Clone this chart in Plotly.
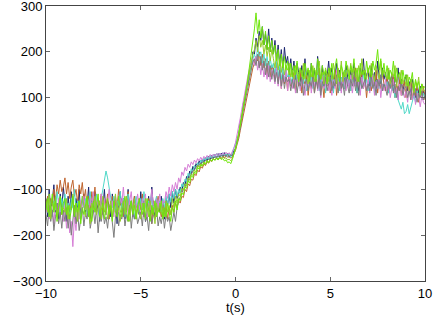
import numpy as np
import plotly.graph_objects as go

# values, one sample every 1/12 s from -10 to 10 (one row = one second)
navy = [
    -120, -160, -100, -145, -125, -90, -150, -130, -165, -110, -140, -95,
    -130, -170, -115, -150, -105, -135, -160, -120, -145, -100, -155, -125,
    -110, -150, -135, -95, -165, -125, -140, -105, -150, -130, -170, -115,
    -140, -100, -155, -125, -135, -160, -110, -145, -120, -175, -130, -105,
    -150, -120, -165, -135, -100, -145, -125, -160, -115, -140, -130, -155,
    -105, -145, -125, -170, -135, -115, -150, -95, -140, -160, -120, -135,
    -150, -115, -140, -165, -120, -135, -110, -140, -105, -130, -100, -120,
    -110, -95, -105, -85, -92, -72, -80, -60, -68, -50, -58, -44,
    -50, -38, -46, -34, -40, -31, -38, -28, -35, -26, -33, -24,
    -32, -22, -30, -21, -30, -20, -28, -22, -30, -24, -28, -15,
    -12, 8, 15, 45, 55, 88, 95, 125, 130, 160, 165, 200,
    195, 230, 210, 245, 225, 255, 215, 240, 205, 250, 200, 230,
    195, 225, 180, 215, 170, 205, 160, 210, 175, 190, 155, 185,
    150, 180, 140, 175, 155, 135, 170, 145, 185, 140, 160, 130,
    175, 140, 160, 130, 190, 150, 135, 170, 125, 155, 145, 180,
    135, 165, 120, 150, 175, 140, 160, 115, 155, 130, 170, 145,
    125, 160, 140, 175, 130, 150, 115, 165, 140, 185, 135, 150,
    160, 125, 170, 140, 155, 120, 180, 145, 130, 165, 140, 155,
    125, 160, 135, 150, 115, 145, 130, 165, 120, 140, 110, 135,
    150, 115, 135, 105, 140, 120, 100, 130, 110, 125, 95, 115,
    105]

sienna = [
    -140, -115, -150, -120, -135, -100, -125, -90, -110, -80, -105, -95,
    -75, -110, -85, -120, -95, -80, -115, -100, -130, -90, -110, -85,
    -125, -100, -140, -115, -150, -105, -130, -95, -145, -120, -135, -110,
    -155, -120, -140, -110, -165, -130, -115, -150, -125, -140, -100, -135,
    -120, -160, -130, -145, -105, -155, -125, -140, -115, -165, -135, -120,
    -145, -110, -160, -130, -150, -120, -140, -175, -125, -150, -135, -115,
    -140, -160, -125, -150, -135, -165, -140, -155, -135, -150, -130, -140,
    -125, -130, -115, -118, -100, -105, -88, -92, -78, -80, -66, -70,
    -58, -62, -50, -54, -45, -48, -40, -43, -37, -39, -33, -36,
    -32, -35, -29, -33, -27, -31, -26, -30, -28, -32, -30, -24,
    -15, -2, 10, 28, 45, 62, 85, 100, 120, 135, 150, 165,
    175, 190, 180, 200, 170, 195, 165, 185, 150, 180, 145, 170,
    160, 140, 175, 135, 165, 120, 155, 130, 150, 115, 160, 125,
    135, 155, 115, 145, 125, 160, 110, 140, 130, 150, 105, 135,
    120, 150, 110, 140, 125, 165, 115, 135, 100, 145, 125, 155,
    110, 140, 125, 160, 105, 135, 150, 115, 140, 120, 155, 130,
    140, 115, 150, 125, 165, 110, 145, 130, 155, 120, 140, 100,
    135, 150, 115, 145, 125, 160, 110, 140, 120, 155, 130, 115,
    145, 110, 135, 120, 150, 100, 130, 115, 140, 105, 125, 135,
    100, 130, 115, 140, 95, 120, 105, 130, 90, 115, 100, 125,
    95]

turquoise = [
    -130, -150, -115, -140, -160, -125, -145, -105, -135, -155, -120, -140,
    -110, -145, -130, -160, -120, -140, -100, -150, -125, -135, -165, -115,
    -140, -120, -155, -130, -105, -150, -125, -145, -110, -135, -160, -120,
    -100, -80, -60, -75, -95, -120, -140, -115, -150, -125, -135, -105,
    -145, -120, -160, -130, -110, -150, -125, -140, -165, -115, -135, -150,
    -120, -145, -105, -135, -155, -125, -140, -110, -150, -130, -115, -145,
    -125, -150, -120, -140, -115, -135, -110, -128, -105, -120, -100, -115,
    -100, -108, -88, -95, -78, -84, -65, -72, -55, -62, -48, -55,
    -42, -48, -36, -42, -32, -38, -28, -36, -26, -33, -24, -31,
    -22, -30, -21, -28, -20, -27, -22, -29, -21, -30, -20, -14,
    -4, 10, 22, 42, 58, 85, 100, 122, 138, 150, 172, 185,
    195, 180, 210, 190, 200, 175, 195, 170, 190, 160, 185, 165,
    175, 150, 180, 145, 170, 140, 165, 135, 160, 145, 150, 130,
    145, 125, 160, 135, 150, 120, 145, 130, 155, 115, 140, 125,
    150, 120, 140, 130, 160, 115, 145, 125, 150, 110, 135, 145,
    125, 155, 110, 140, 130, 150, 115, 145, 135, 120, 160, 125,
    140, 115, 150, 125, 135, 110, 145, 130, 120, 155, 125, 140,
    115, 145, 125, 150, 110, 135, 140, 120, 150, 115, 130, 125,
    135, 110, 130, 115, 125, 100, 115, 95, 85, 75, 90, 65,
    70, 85, 65, 80, 95, 105, 90, 115, 100, 120, 95, 110,
    100]

orchid = [
    -150, -125, -165, -135, -145, -175, -130, -155, -120, -160, -140, -170,
    -135, -185, -150, -195, -170, -225, -160, -190, -140, -165, -125, -150,
    -115, -145, -130, -160, -120, -140, -105, -150, -135, -125, -155, -110,
    -140, -120, -155, -130, -100, -145, -125, -160, -115, -135, -150, -120,
    -130, -95, -140, -115, -160, -125, -105, -150, -130, -145, -110, -135,
    -155, -120, -140, -110, -165, -130, -145, -100, -135, -150, -120, -140,
    -110, -145, -125, -130, -105, -120, -95, -115, -90, -105, -85, -100,
    -75, -85, -62, -70, -52, -60, -45, -52, -40, -46, -36, -42,
    -33, -38, -30, -36, -28, -33, -26, -31, -24, -29, -23, -28,
    -22, -27, -21, -26, -20, -25, -19, -24, -20, -25, -18, -10,
    2, 18, 35, 55, 75, 95, 115, 130, 150, 165, 180, 185,
    170, 190, 160, 180, 150, 175, 145, 165, 140, 170, 135, 160,
    150, 130, 165, 125, 155, 120, 150, 135, 160, 115, 145, 130,
    120, 145, 110, 135, 150, 115, 140, 125, 105, 135, 120, 145,
    110, 140, 125, 155, 115, 135, 100, 145, 120, 130, 150, 115,
    135, 105, 145, 120, 160, 125, 140, 110, 150, 130, 115, 140,
    120, 150, 110, 135, 125, 160, 130, 105, 145, 120, 135, 115,
    140, 110, 130, 150, 105, 135, 120, 145, 100, 130, 115, 140,
    115, 135, 100, 125, 140, 110, 120, 95, 130, 105, 120, 100,
    115, 90, 125, 105, 95, 120, 85, 110, 100, 80, 105, 90,
    85]

gray = [
    -155, -180, -135, -170, -145, -190, -160, -140, -175, -150, -185, -145,
    -170, -140, -185, -155, -200, -160, -135, -175, -150, -190, -165, -140,
    -180, -150, -165, -135, -185, -160, -145, -175, -140, -195, -155, -170,
    -145, -175, -160, -185, -150, -140, -170, -205, -160, -145, -180, -155,
    -165, -140, -180, -155, -170, -135, -185, -150, -165, -145, -175, -160,
    -150, -180, -140, -170, -160, -190, -145, -175, -155, -165, -140, -180,
    -160, -175, -150, -185, -155, -170, -160, -190, -165, -150, -170, -140,
    -125, -118, -108, -100, -96, -86, -82, -72, -68, -60, -58, -50,
    -50, -45, -46, -40, -42, -37, -38, -34, -36, -31, -33, -29,
    -31, -27, -30, -26, -29, -25, -28, -24, -28, -25, -27, -20,
    -10, 0, 18, 32, 55, 72, 95, 110, 128, 145, 160, 178,
    185, 170, 195, 165, 190, 160, 180, 150, 175, 145, 170, 140,
    165, 135, 155, 130, 160, 125, 150, 120, 145, 135, 140, 115,
    140, 120, 150, 110, 135, 125, 145, 105, 130, 140, 115, 135,
    125, 145, 110, 140, 120, 150, 105, 135, 125, 145, 115, 130,
    145, 115, 135, 125, 150, 110, 140, 120, 130, 105, 145, 125,
    110, 140, 125, 150, 115, 135, 105, 145, 120, 130, 140, 115,
    130, 115, 145, 120, 135, 105, 140, 125, 150, 115, 130, 120,
    105, 135, 120, 140, 110, 130, 100, 125, 115, 135, 105, 120,
    125, 100, 115, 95, 130, 105, 120, 90, 110, 100, 115, 95,
    105]

yellowgreen = [
    -125, -150, -110, -165, -130, -145, -115, -160, -135, -120, -155, -140,
    -150, -120, -165, -135, -145, -110, -155, -130, -170, -125, -140, -115,
    -135, -160, -120, -150, -175, -130, -145, -115, -155, -140, -125, -165,
    -115, -150, -130, -165, -140, -125, -160, -135, -110, -150, -140, -170,
    -140, -125, -155, -115, -150, -170, -130, -145, -120, -160, -135, -150,
    -165, -130, -150, -120, -140, -160, -125, -155, -140, -175, -130, -150,
    -130, -155, -140, -160, -125, -150, -135, -155, -120, -140, -115, -130,
    -110, -115, -98, -102, -88, -92, -75, -80, -66, -70, -58, -62,
    -48, -52, -44, -48, -40, -44, -37, -41, -35, -38, -33, -36,
    -31, -34, -30, -33, -29, -33, -31, -36, -34, -38, -33, -24,
    -12, 4, 22, 38, 62, 80, 102, 120, 140, 158, 178, 195,
    205, 225, 200, 235, 210, 225, 195, 215, 190, 210, 180, 205,
    185, 165, 195, 160, 185, 155, 180, 150, 170, 160, 175, 145,
    160, 140, 170, 150, 135, 165, 145, 175, 140, 155, 130, 160,
    145, 170, 135, 160, 150, 180, 140, 155, 130, 165, 150, 135,
    165, 140, 175, 150, 130, 165, 145, 180, 135, 160, 145, 170,
    150, 175, 140, 165, 155, 135, 170, 145, 185, 150, 160, 140,
    165, 145, 175, 150, 135, 170, 155, 140, 180, 145, 160, 150,
    140, 165, 130, 155, 145, 170, 125, 150, 140, 160, 130, 145,
    125, 150, 115, 140, 130, 110, 135, 120, 145, 105, 130, 115,
    115]

lime = [
    -145, -120, -160, -135, -110, -150, -125, -170, -140, -115, -155, -130,
    -120, -155, -135, -165, -145, -115, -160, -130, -150, -125, -175, -140,
    -155, -130, -115, -160, -140, -170, -125, -150, -135, -110, -160, -145,
    -130, -165, -140, -120, -155, -135, -170, -125, -150, -160, -115, -145,
    -160, -135, -115, -150, -170, -140, -125, -155, -135, -165, -145, -120,
    -140, -155, -130, -165, -120, -150, -170, -135, -155, -125, -160, -145,
    -150, -125, -165, -140, -160, -130, -155, -170, -140, -150, -125, -145,
    -120, -125, -108, -112, -95, -98, -82, -86, -70, -74, -62, -66,
    -52, -56, -46, -50, -42, -46, -38, -42, -35, -39, -33, -37,
    -32, -36, -31, -35, -33, -38, -36, -42, -40, -44, -35, -24,
    -14, 2, 20, 38, 60, 78, 100, 120, 145, 170, 195, 225,
    250, 285, 240, 270, 230, 255, 215, 245, 205, 235, 200, 225,
    195, 215, 180, 205, 170, 195, 165, 190, 160, 180, 150, 175,
    145, 170, 150, 180, 135, 165, 155, 140, 175, 150, 165, 135,
    175, 145, 165, 135, 185, 155, 140, 170, 150, 160, 130, 165,
    150, 175, 140, 165, 185, 150, 135, 170, 155, 145, 180, 160,
    140, 170, 155, 185, 145, 165, 135, 175, 150, 160, 140, 180,
    155, 170, 145, 180, 160, 175, 205, 160, 185, 150, 175, 145,
    170, 140, 160, 150, 180, 135, 165, 145, 155, 130, 160, 140,
    150, 125, 145, 135, 155, 115, 140, 125, 135, 110, 130, 120,
    125]

series = [
    (navy, "#1c2670"),
    (sienna, "#c0652f"),
    (turquoise, "#4fd8c8"),
    (orchid, "#d67ed6"),
    (gray, "#7d7d7d"),
    (yellowgreen, "#94cc2a"),
    (lime, "#6fe60a"),
]

fig = go.Figure()
for vals, col in series:
    t = np.linspace(-10, 10, len(vals))
    fig.add_trace(go.Scatter(x=t, y=vals, mode="lines",
                             line=dict(color=col, width=1), showlegend=False))

font = dict(family="Liberation Sans, Arial", size=13, color="black")
axis_style = dict(
    showline=True, linecolor="#444", linewidth=1, mirror="ticks",
    ticks="inside", ticklen=4, tickcolor="#666",
    showgrid=False, zeroline=False, automargin=False,
    ticklabeloverflow="allow", tickfont=font,
)

fig.update_xaxes(range=[-10, 10], tickvals=[-10, -5, 0, 5, 10], **axis_style)
fig.update_yaxes(range=[-300, 300], tickvals=[-300, -200, -100, 0, 100, 200, 300],
                 **axis_style)

fig.add_annotation(text="t(s)", x=0, xref="x", y=0, yref="paper",
                   yshift=-26, yanchor="middle", showarrow=False, font=font)

fig.update_layout(
    width=436, height=318,
    margin=dict(l=46, r=11, t=6, b=37),
    plot_bgcolor="white", paper_bgcolor="white",
)

# drop the browser's default 8px page margin so the figure sits at the window corner
fig.write_html("out.html", config={"displayModeBar": False},
               post_script="document.body.style.margin='0';")
